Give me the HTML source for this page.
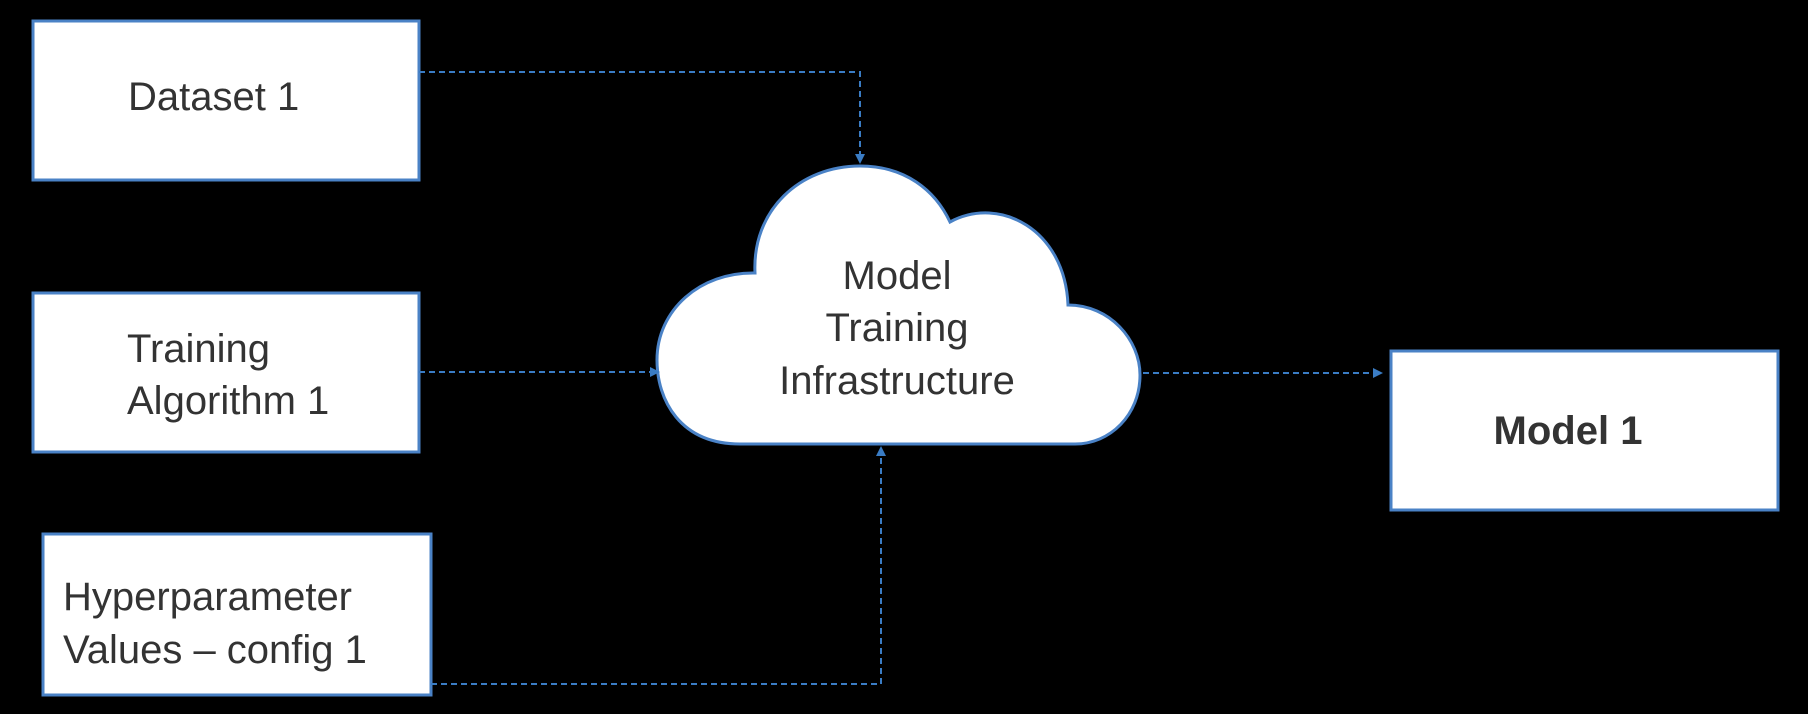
<!DOCTYPE html>
<html><head><meta charset="utf-8"><style>
html,body{margin:0;padding:0;background:#000;}
svg{display:block}
text{font-family:"Liberation Sans",sans-serif;fill:#333;font-size:40px}
</style></head><body>
<svg width="1808" height="714" viewBox="0 0 1808 714" xmlns="http://www.w3.org/2000/svg">
<defs>
<marker id="a" markerWidth="10" markerHeight="10" refX="8" refY="5" orient="auto" markerUnits="userSpaceOnUse">
<path d="M0,0 L10,5 L0,10 Z" fill="#3a7cc4"/>
</marker>
</defs>
<rect width="1808" height="714" fill="#000"/>
<g fill="#fff" stroke="#4a82c6" stroke-width="3">
<rect x="33" y="21" width="386" height="159"/>
<rect x="33" y="293" width="386" height="159"/>
<rect x="43" y="534" width="388" height="161"/>
<rect x="1391" y="351" width="387" height="159"/>
<path d="M740 444 C680 444 657 400 657 360 C657 310 700 272 755 273 C752 210 800 166 860 166 C905 166 935 190 950 222 C1000 195 1065 230 1068 305 C1110 305 1140 340 1140 375 C1140 415 1110 444 1075 444 Z" stroke-width="3"/>
</g>
<g fill="none" stroke="#3a7cc4" stroke-width="2" stroke-dasharray="6 4">
<path d="M419 72 H860 V162" marker-end="url(#a)"/>
<path d="M419 372 H658" marker-end="url(#a)"/>
<path d="M431 684 H881 V448" marker-end="url(#a)"/>
<path d="M1143 373 H1381" marker-end="url(#a)"/>
</g>
<text x="128" y="110">Dataset 1</text>
<text x="127" y="362">Training</text>
<text x="127" y="414">Algorithm 1</text>
<text x="63" y="610">Hyperparameter</text>
<text x="63" y="663">Values – config 1</text>
<g text-anchor="middle">
<text x="897" y="289">Model</text>
<text x="897" y="341">Training</text>
<text x="897" y="394">Infrastructure</text>
<text x="1568" y="444" font-weight="bold">Model 1</text>
</g>
</svg>
</body></html>
